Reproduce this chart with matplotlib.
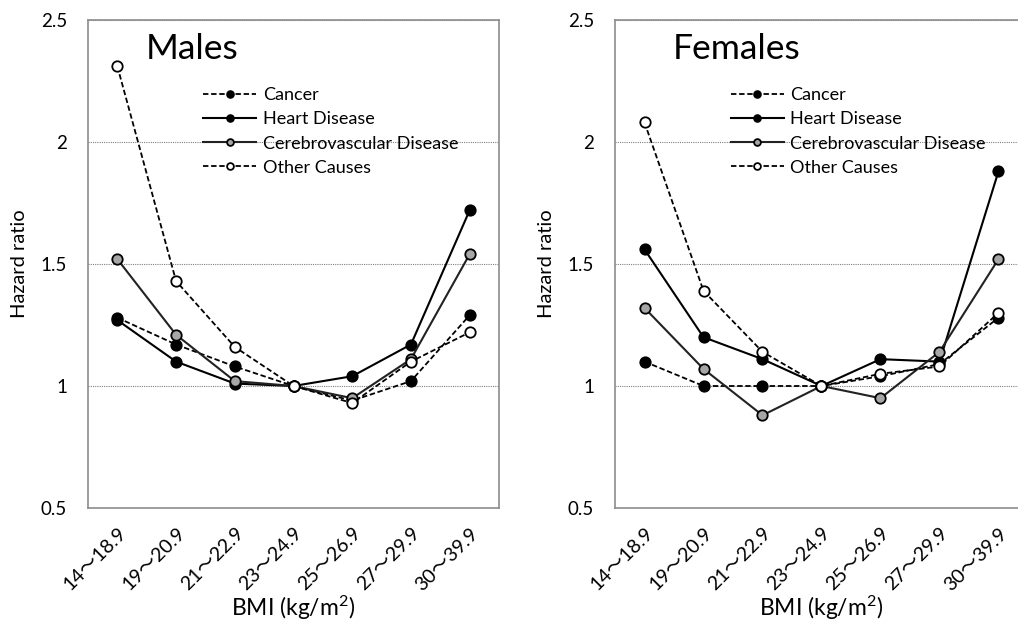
import matplotlib
matplotlib.use("Agg")
import matplotlib.pyplot as plt

plt.rcParams['font.family'] = ['Lato', 'Noto Sans CJK JP', 'DejaVu Sans']
plt.rcParams['mathtext.fontset'] = 'custom'
plt.rcParams['mathtext.rm'] = 'Lato'
plt.rcParams['mathtext.it'] = 'Lato:italic'
plt.rcParams['mathtext.default'] = 'regular'

categories = ["14～18.9", "19～20.9", "21～22.9", "23～24.9", "25～26.9", "27～29.9", "30～39.9"]

series_names = ["Cancer", "Heart Disease", "Cerebrovascular Disease", "Other Causes"]

males_cancer = [1.28, 1.17, 1.08, 1.00, 0.94, 1.02, 1.29]
males_heart = [1.27, 1.10, 1.01, 1.00, 1.04, 1.17, 1.72]
males_cerebro = [1.52, 1.21, 1.02, 1.00, 0.95, 1.11, 1.54]
males_other = [2.31, 1.43, 1.16, 1.00, 0.93, 1.10, 1.22]

females_cancer = [1.10, 1.00, 1.00, 1.00, 1.04, 1.09, 1.28]
females_heart = [1.56, 1.20, 1.11, 1.00, 1.11, 1.10, 1.88]
females_cerebro = [1.32, 1.07, 0.88, 1.00, 0.95, 1.14, 1.52]
females_other = [2.08, 1.39, 1.14, 1.00, 1.05, 1.08, 1.30]

panels = [
    ("Males", [males_cancer, males_heart, males_cerebro, males_other]),
    ("Females", [females_cancer, females_heart, females_cerebro, females_other]),
]

styles = [
    dict(linestyle=(0, (3, 1.5)), color='black', marker='o', markerfacecolor='black'),
    dict(linestyle='-', color='black', marker='o', markerfacecolor='black'),
    dict(linestyle='-', color='#222222', marker='o', markerfacecolor='#a6a6a6'),
    dict(linestyle=(0, (3, 1.5)), color='black', marker='o', markerfacecolor='white'),
]
lws = [1.3, 1.5, 1.5, 1.3]

fig = plt.figure(figsize=(10.18, 6.22), dpi=100)
axes_pos = [
    [88 / 1018, 114 / 622, 411 / 1018, 488 / 622],
    [615 / 1018, 114 / 622, 413 / 1018, 488 / 622],
]

for (title, data), pos in zip(panels, axes_pos):
    ax = fig.add_axes(pos)
    x = list(range(len(categories)))
    for vals, st, lw, name in zip(data, styles, lws, series_names):
        ax.plot(x, vals, linewidth=lw, markersize=7.5, markeredgecolor='black',
                markeredgewidth=1.3, label=name, **st)
    ax.set_xlim(-0.5, len(categories) - 0.5)
    ax.set_ylim(0.5, 2.5)
    ax.set_yticks([0.5, 1, 1.5, 2, 2.5])
    ax.set_yticklabels(["0.5", "1", "1.5", "2", "2.5"])
    ax.set_xticks(x)
    ax.set_xticklabels(categories, rotation=45, ha='right', va='top',
                       rotation_mode='anchor')
    ax.tick_params(axis='x', length=0, labelsize=14, colors='black', pad=12)
    ax.tick_params(axis='y', length=0, labelsize=13.5, colors='black', pad=15)
    for sp in ax.spines.values():
        sp.set_color('#8c8c8c')
        sp.set_linewidth(1.2)
    ax.yaxis.grid(True, color='#808080', linestyle=(0, (1, 1)), linewidth=0.8)
    ax.set_axisbelow(True)
    ax.set_ylabel("Hazard ratio", fontsize=14.5, labelpad=9)
    ax.set_xlabel("BMI (kg/m$^2$)", fontsize=16.5)
    ax.xaxis.set_label_coords(0.5, -0.205)
    ax.xaxis.label.set_va('center')
    ax.text(0.14, 0.92, title, transform=ax.transAxes, fontsize=25.5,
            ha='left', va='baseline')
    ax.legend(loc='upper left', bbox_to_anchor=(0.28, 0.862), frameon=False,
              fontsize=13, borderpad=0, borderaxespad=0, handlelength=2.95,
              handletextpad=0.35, labelspacing=0.45, markerscale=0.65)

fig.savefig("out.png", dpi=100)
